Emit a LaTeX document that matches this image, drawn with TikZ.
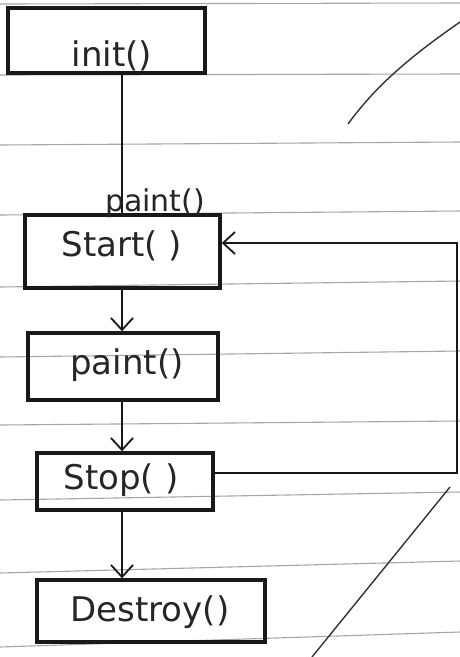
\documentclass[tikz,border=0pt]{standalone}
\usepackage{fontspec}
\setmainfont{DejaVu Sans}
\usetikzlibrary{arrows.meta}
\begin{document}
\begin{tikzpicture}[x=1pt,y=-1pt,
  box/.style={draw=black!90,line width=3.4pt,rectangle,inner sep=0pt},
  lbl/.style={font=\fontsize{34}{40}\selectfont,text=black!85,inner sep=0pt},
  smalllbl/.style={font=\fontsize{30}{36}\selectfont,text=black!85,inner sep=0pt},
  conn/.style={line width=2.2pt,draw=black!90},
  arr/.style={conn,-{Straight Barb[length=12pt,width=22pt,line width=1.8pt]}},
  ruleline/.style={draw=black!35,line width=1.1pt},
  stray/.style={draw=black!80,line width=1.4pt}]
\useasboundingbox (0,0) rectangle (460,657);
\fill[white] (0,0) rectangle (460,657);
% ruled paper
\foreach \a/\b in {4/3,75/74,145/142,215/211,287/281,357/351,425/421,500/492,573/561,647/632}
  \draw[ruleline] (0,\a) -- (460,\b);
% stray pen strokes
\draw[stray] (348,124) .. controls (380,80) and (420,50) .. (460,22);
\draw[stray] (450,487) -- (312,657);
% boxes
\node[box,minimum width=197pt,minimum height=65pt] (init) at (106.5,40.5) {};
\node[box,minimum width=195pt,minimum height=73pt] (start) at (122.5,251.5) {};
\node[box,minimum width=190pt,minimum height=67pt] (paint) at (123,366.5) {};
\node[box,minimum width=176pt,minimum height=57pt] (stop) at (125,481.5) {};
\node[box,minimum width=228pt,minimum height=62pt] (destroy) at (151,611) {};
% texts
\node[lbl] (tinit) at (112,56) {init()};
\node[smalllbl] (tpaintlabel) at (155,203) {paint()};
\node[lbl] (tstart) at (122,246) {Start( )};
\node[lbl] (tpaint) at (127,365) {paint()};
\node[lbl] (tstop) at (121,480) {Stop( )};
\node[lbl] (tdestroy) at (150,612) {Destroy()};
% connectors
\coordinate (spine) at (122,0);
\coordinate (loopx) at (457,0);
\draw[conn] (init.south -| spine) -- (start.north -| spine);
\draw[arr] (start.south -| spine) -- (paint.north -| spine);
\draw[arr] (paint.south -| spine) -- (stop.north -| spine);
\draw[arr] (stop.south -| spine) -- (destroy.north -| spine);
\draw[arr] ([yshift=8.5pt]stop.east) -- ([yshift=8.5pt]stop.east -| loopx)
  -- ([yshift=8.5pt]start.east -| loopx) -- ([yshift=8.5pt]start.east);
\end{tikzpicture}
\end{document}
